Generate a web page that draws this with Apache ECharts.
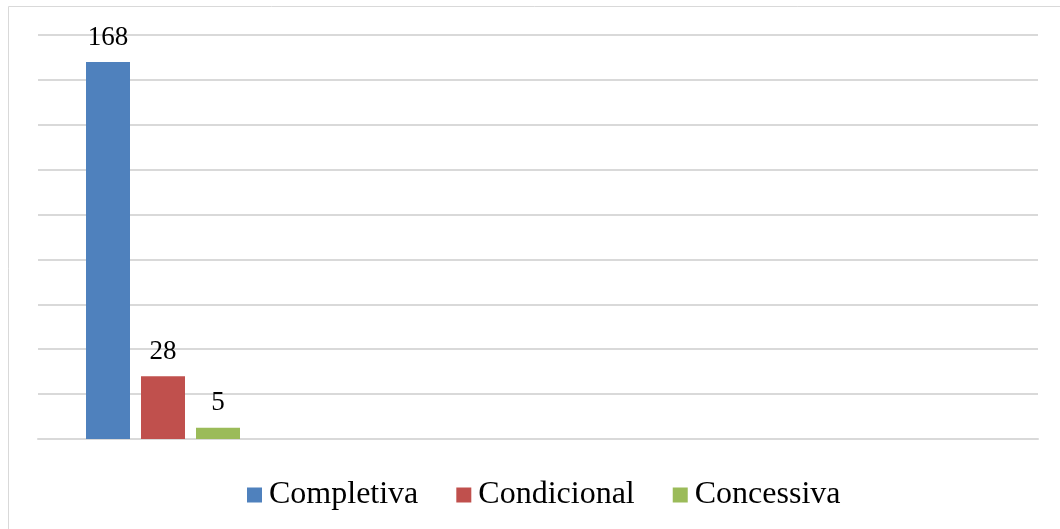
<!DOCTYPE html>
<html>
<head>
<meta charset="utf-8">
<script src="https://cdn.jsdelivr.net/npm/echarts@6/dist/echarts.min.js"></script>
<style>
  html, body { margin: 0; padding: 0; background: #fff; }
  #chart { width: 1060px; height: 529px; }
</style>
</head>
<body>
<div id="chart"></div>
<script>
// Category slots along the x axis (only the first one holds values)
const categories = ['', '', '', ''];
const seriesNames = ['Completiva', 'Condicional', 'Concessiva'];
const completiva = [168, null, null, null];
const condicional = [28, null, null, null];
const concessiva = [5, null, null, null];
const colors = ['#4F81BD', '#C0504D', '#9BBB59'];

const serif = "'Liberation Serif', 'Times New Roman', serif";

function barSeries(name, data, color) {
  return {
    name: name,
    type: 'bar',
    data: data,
    barWidth: 44,
    barGap: '25%',
    itemStyle: { color: color },
    label: {
      show: true,
      position: 'top',
      distance: 11,
      color: '#000',
      fontFamily: serif,
      fontSize: 27
    }
  };
}

const chart = echarts.init(document.getElementById('chart'), null, { renderer: 'canvas' });
chart.setOption({
  animation: false,
  backgroundColor: '#fff',
  graphic: [{
    type: 'rect',
    shape: { x: 8.5, y: 6.5, width: 1100, height: 600 },
    style: { fill: 'none', stroke: '#d9d9d9', lineWidth: 1 },
    silent: true
  }],
  grid: { left: 38, right: 22, top: 35, bottom: 90, containLabel: false },
  legend: {
    data: seriesNames,
    left: 247,
    top: 479,
    padding: 0,
    itemWidth: 15,
    itemHeight: 15,
    itemGap: 38,
    icon: 'rect',
    textStyle: { fontFamily: serif, fontSize: 32, color: '#000', padding: [0, 0, 0, 2] }
  },
  xAxis: {
    type: 'category',
    data: categories,
    axisLine: { show: true, lineStyle: { color: '#d9d9d9', width: 2 } },
    axisTick: { show: false },
    axisLabel: { show: false },
    splitLine: { show: false }
  },
  yAxis: {
    type: 'value',
    min: 0,
    max: 180,
    interval: 20,
    axisLine: { show: false },
    axisTick: { show: false },
    axisLabel: { show: false },
    splitLine: { show: true, lineStyle: { color: '#d9d9d9', width: 2 } }
  },
  series: [
    barSeries(seriesNames[0], completiva, colors[0]),
    barSeries(seriesNames[1], condicional, colors[1]),
    barSeries(seriesNames[2], concessiva, colors[2])
  ]
});
</script>
</body>
</html>
